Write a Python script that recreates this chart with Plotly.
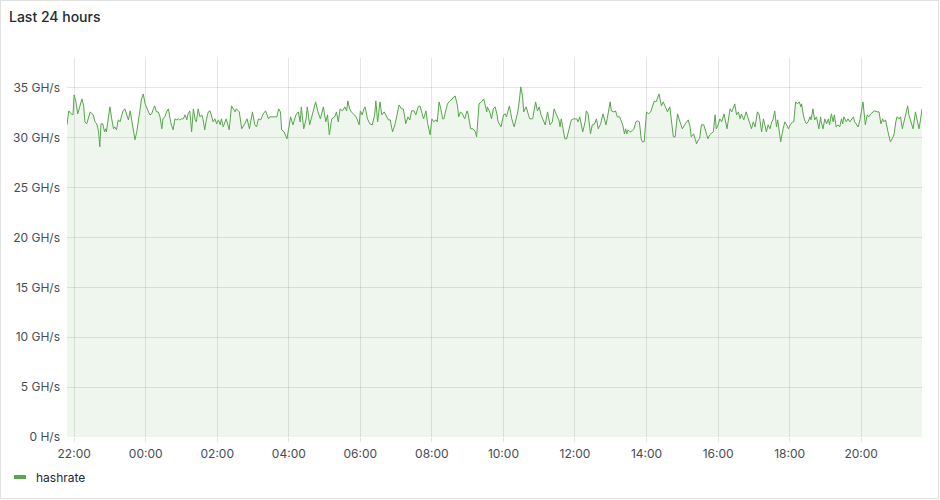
import datetime as dt
import plotly.graph_objects as go

# ---- data (minutes after 21:48, hashrate in GH/s) ----
START = dt.datetime(2024, 1, 1, 21, 48)

minutes = [
    0, 3, 7, 10, 12, 15, 18, 21, 25, 28,
    30, 33, 36, 39, 42, 44, 47, 50, 53, 55,
    57, 60, 63, 65, 66, 69, 72, 75, 78, 80,
    83, 86, 89, 92, 94, 97, 100, 103, 106, 108,
    111, 114, 117, 120, 122, 125, 128, 131, 134, 136,
    139, 142, 145, 147, 150, 153, 156, 159, 161, 164,
    167, 170, 173, 175, 178, 181, 184, 187, 189, 192,
    195, 198, 201, 203, 206, 209, 212, 215, 217, 220,
    223, 226, 228, 231, 234, 237, 240,
    243, 245, 248, 251, 254, 257, 259, 262, 267, 272,
    276, 279, 282, 284, 289, 293, 296, 298, 302, 306,
    311, 315, 318, 321, 325, 329, 333, 338, 340, 346,
    352, 355, 358, 360, 364, 369, 373, 375, 379, 384,
    388, 391, 393, 397, 401, 403, 407, 412, 417, 421,
    425, 430, 434, 437, 440, 444, 449, 452, 455, 458,
    462, 466, 469, 471, 474,
    477, 481, 485, 487, 490, 492, 495, 498, 500, 504,
    508, 512, 516, 518, 521, 525, 528, 532, 535, 539,
    542, 546, 550, 554, 557, 561, 564, 567, 568, 572,
    575, 578, 582, 585, 589, 592, 595, 598, 602, 605,
    609, 612, 615, 619, 621, 624, 627, 630, 632, 635,
    638, 641, 646, 648, 651, 655, 657, 660, 663, 667,
    671, 673, 677, 681, 685, 687, 691, 695, 699, 704,
    705, 709,
    712, 715, 718, 721, 723, 728, 732, 735, 737, 742,
    746, 750, 753, 756, 759, 761, 764, 766, 770, 774,
    776, 781, 783, 786, 789, 792, 795, 799, 802, 806,
    810, 814, 817, 821, 825, 827, 829, 832, 835, 838,
    842, 846, 850, 855, 857, 860, 865, 869, 871, 874,
    878, 881, 885, 888, 891, 895, 899, 904, 906, 911,
    913, 917, 920, 923, 927, 932, 935, 937, 939, 941,
    944,
    946, 949, 951, 954, 957, 960, 963, 965, 968, 972,
    975, 979, 982, 985, 988, 993, 997, 1000, 1005, 1007,
    1011, 1017, 1020, 1024, 1027, 1030, 1032, 1037, 1042, 1045,
    1047, 1051, 1056, 1059, 1061, 1064, 1068, 1075, 1078, 1084,
    1087, 1089, 1092, 1095, 1098, 1102, 1105, 1107, 1112, 1115,
    1120, 1123, 1126, 1129, 1131, 1135, 1139, 1143, 1148, 1151,
    1154, 1158, 1161, 1165, 1168, 1170, 1173, 1176, 1179,
    1182, 1184, 1187, 1190, 1192, 1195, 1197, 1201, 1204, 1207,
    1210, 1213, 1217, 1219, 1222, 1225, 1228, 1231, 1232, 1235,
    1237, 1240, 1243, 1246, 1248, 1251, 1254, 1257, 1261, 1264,
    1265, 1268, 1271, 1274, 1277, 1279, 1282, 1285, 1287, 1290,
    1293, 1296, 1299, 1301, 1303, 1307, 1310, 1313, 1316, 1319,
    1321, 1324, 1327, 1330, 1332, 1335, 1339, 1342, 1345, 1348,
    1352, 1355, 1359, 1362, 1365, 1368, 1370, 1373, 1377, 1381,
    1384, 1387, 1390, 1392, 1396, 1398, 1401, 1404, 1407, 1410,
    1412, 1415, 1419, 1423, 1426, 1429, 1431, 1434,
]

hashrate_ghs = [
    31.3, 32.7, 32.4, 32.3, 34.3, 33.6, 32.4, 33.1, 33.9, 33.2,
    31.6, 31.4, 31.9, 32.6, 32.4, 32.3, 31.6, 31.4, 30.6, 29.1,
    31.4, 31.4, 30.6, 30.9, 30.6, 32.1, 33.1, 31.9, 30.9, 31.1,
    30.8, 31.8, 31.6, 32.3, 32.7, 32.9, 32.3, 31.8, 32.7, 31.9,
    30.9, 29.8, 30.6, 31.6, 32.6, 33.9, 34.4, 33.4, 32.9, 32.7,
    32.3, 32.4, 32.9, 33.2, 32.6, 32.6, 32.1, 30.9, 31.9, 32.1,
    32.6, 32.9, 31.9, 31.3, 30.8, 31.9, 31.8, 31.9, 31.8, 31.9,
    31.9, 32.3, 31.8, 32.4, 32.7, 30.6, 32.9, 31.8, 31.6, 32.9,
    32.1, 32.3, 31.9, 30.8, 31.9, 32.6, 32.7,
    31.9, 31.6, 31.9, 31.4, 31.8, 31.3, 31.9, 31.1, 31.9, 30.8,
    33.2, 32.9, 32.6, 32.9, 32.6, 30.9, 31.3, 31.4, 31.9, 30.9,
    32.6, 31.3, 31.1, 31.9, 31.8, 32.4, 32.7, 31.9, 32.1, 32.1,
    32.1, 32.9, 32.6, 30.8, 30.6, 29.9, 31.3, 32.1, 31.3, 32.3,
    32.6, 31.6, 33.1, 30.9, 31.9, 33.1, 31.3, 32.6, 33.6, 32.6,
    31.9, 33.1, 31.6, 32.3, 30.3, 31.9, 32.1, 32.6, 31.6, 32.9,
    32.7, 33.1, 32.7, 33.7, 32.9,
    32.6, 32.3, 32.1, 31.8, 31.3, 32.7, 32.3, 32.9, 33.1, 31.9,
    31.4, 31.3, 32.3, 33.7, 31.6, 33.6, 32.3, 32.6, 32.3, 31.8,
    31.8, 30.6, 31.3, 32.3, 33.3, 32.9, 32.9, 31.9, 31.4, 32.1,
    31.8, 32.7, 32.7, 32.3, 33.1, 33.2, 32.6, 31.9, 32.7, 31.4,
    30.3, 31.9, 31.6, 31.8, 31.6, 33.6, 32.9, 31.9, 31.9, 32.6,
    33.4, 33.6, 33.9, 34.1, 34.2, 33.2, 32.1, 32.6, 32.4, 31.9,
    32.7, 32.3, 30.9, 30.9, 30.6, 30.1, 33.4, 33.6, 33.9, 32.6,
    33.1, 32.6,
    31.9, 32.9, 33.1, 32.4, 31.6, 31.1, 32.3, 32.4, 32.1, 33.2,
    31.9, 31.1, 31.9, 32.6, 33.9, 35.1, 34.2, 32.6, 33.1, 32.3,
    31.9, 31.9, 32.6, 33.6, 32.7, 33.1, 32.3, 31.8, 31.3, 32.6,
    31.3, 31.6, 32.9, 32.3, 31.8, 31.1, 31.9, 30.9, 29.9, 29.9,
    30.9, 31.8, 31.9, 31.9, 31.6, 32.1, 30.6, 31.6, 32.7, 32.4,
    30.4, 31.3, 31.4, 31.9, 30.9, 31.4, 32.4, 31.3, 31.9, 33.6,
    32.7, 32.6, 32.7, 32.1, 32.1, 31.3, 30.4, 30.9, 30.4, 30.8,
    30.6,
    30.6, 30.8, 30.9, 31.6, 31.7, 31.6, 29.9, 29.6, 29.6, 32.6,
    32.4, 32.6, 33.2, 33.7, 33.6, 34.4, 33.2, 33.6, 32.9, 32.6,
    33.1, 30.1, 30.1, 32.4, 31.8, 31.3, 30.9, 31.4, 31.8, 31.1,
    30.1, 30.4, 29.4, 29.8, 29.9, 31.3, 31.3, 29.9, 30.3, 30.6,
    32.3, 30.9, 31.3, 31.9, 31.6, 32.4, 31.6, 30.9, 32.9, 32.6,
    33.4, 32.3, 32.6, 31.9, 32.4, 31.8, 32.6, 31.9, 30.9, 31.6,
    31.1, 32.6, 32.3, 30.6, 31.9, 31.4, 30.6, 31.3, 30.9,
    31.6, 31.8, 32.7, 31.1, 31.8, 30.1, 29.6, 30.9, 31.6, 31.3,
    30.9, 31.3, 31.6, 31.6, 33.6, 33.4, 33.6, 33.1, 33.4, 32.3,
    31.8, 31.4, 31.6, 32.1, 31.8, 32.9, 31.8, 32.1, 30.9, 32.1,
    31.6, 30.9, 31.9, 31.4, 31.9, 31.3, 32.4, 31.6, 32.3, 31.1,
    31.3, 31.1, 31.9, 31.4, 32.1, 31.6, 31.9, 31.6, 31.8, 32.1,
    31.6, 31.4, 31.1, 31.8, 32.6, 33.6, 31.3, 32.3, 32.1, 32.4,
    32.6, 32.7, 32.6, 32.6, 31.4, 31.9, 31.6, 31.8, 30.6, 29.6,
    29.9, 30.3, 31.6, 32.1, 31.9, 32.1, 30.9, 31.6, 32.6, 33.2,
    32.3, 31.6, 30.9, 32.6, 31.6, 30.9, 31.6, 32.9,
]

y_tick_values = [0, 5, 10, 15, 20, 25, 30, 35]
y_tick_labels = ["0 H/s", "5 GH/s", "10 GH/s", "15 GH/s", "20 GH/s",
                 "25 GH/s", "30 GH/s", "35 GH/s"]
WINDOW_MIN = 1434
FIRST_TICK = dt.datetime(2024, 1, 1, 22, 0)

assert len(minutes) == len(hashrate_ghs)

# ---- styling ----
W, H = 940, 500
ML, MR, MT, MB = 67, 18, 58, 63
PW, PH = W - ML - MR, H - MT - MB
LINE = "#56A64B"
FILL = "rgba(86,166,75,0.10)"
GRID = "rgba(0,0,0,0.10)"
TICK_TXT = "#464c54"
TXT = "#24292e"
FONT = "Inter, Roboto, 'Noto Sans', sans-serif"


def px_x(p):
    return (p - ML) / PW


def px_y(p):
    return (H - MB - p) / PH


times = [START + dt.timedelta(minutes=m) for m in minutes]

fig = go.Figure()
fig.add_trace(go.Scatter(
    x=times, y=hashrate_ghs, mode="lines", name="hashrate",
    line=dict(color=LINE, width=1), fill="tozeroy", fillcolor=FILL,
    showlegend=False, hoverinfo="skip",
))

fig.update_layout(
    width=W, height=H,
    margin=dict(l=ML, r=MR, t=MT, b=MB, pad=0),
    paper_bgcolor="white", plot_bgcolor="white",
    font=dict(family=FONT, size=12, color=TICK_TXT),
    title=dict(text="Last 24 hours", x=9 / W, xref="container", xanchor="left",
               y=1 - 17 / H, yref="container", yanchor="middle",
               font=dict(family=FONT, size=14, color=TXT, weight=500)),
    showlegend=False,
    xaxis=dict(
        type="date",
        range=[START, START + dt.timedelta(minutes=WINDOW_MIN)],
        tick0=FIRST_TICK, dtick=2 * 3600 * 1000, tickformat="%H:%M",
        showgrid=True, gridcolor=GRID, gridwidth=1,
        ticks="outside", ticklen=4, tickcolor=GRID,
        ticklabelstandoff=2,
        showline=False, zeroline=False,
        tickfont=dict(family=FONT, size=12, color=TICK_TXT),
    ),
    yaxis=dict(
        range=[0, 38],
        tickvals=y_tick_values, ticktext=y_tick_labels,
        showgrid=True, gridcolor=GRID, gridwidth=1,
        ticks="", ticklabelstandoff=6,
        showline=False, zeroline=False,
        tickfont=dict(family=FONT, size=12, color=TICK_TXT),
    ),
)

# panel border
fig.add_shape(type="rect", xref="paper", yref="paper",
              x0=px_x(0.5), x1=px_x(W - 1.5), y0=px_y(0.5), y1=px_y(H - 1.5),
              line=dict(color="rgba(36,41,46,0.14)", width=1),
              fillcolor="rgba(0,0,0,0)", layer="below")

# legend (Grafana-style)
fig.add_shape(type="line", xref="paper", yref="paper",
              x0=px_x(14), x1=px_x(26), y0=px_y(477), y1=px_y(477),
              line=dict(color=LINE, width=4))
fig.add_annotation(text="hashrate", xref="paper", yref="paper",
                   x=px_x(34), y=px_y(477), xanchor="left", yanchor="middle",
                   showarrow=False, font=dict(family=FONT, size=12, color=TXT))

fig.write_html(
    "out.html",
    config={"displayModeBar": False},
    post_script="document.body.style.margin='0';document.body.style.overflow='hidden';",
)
